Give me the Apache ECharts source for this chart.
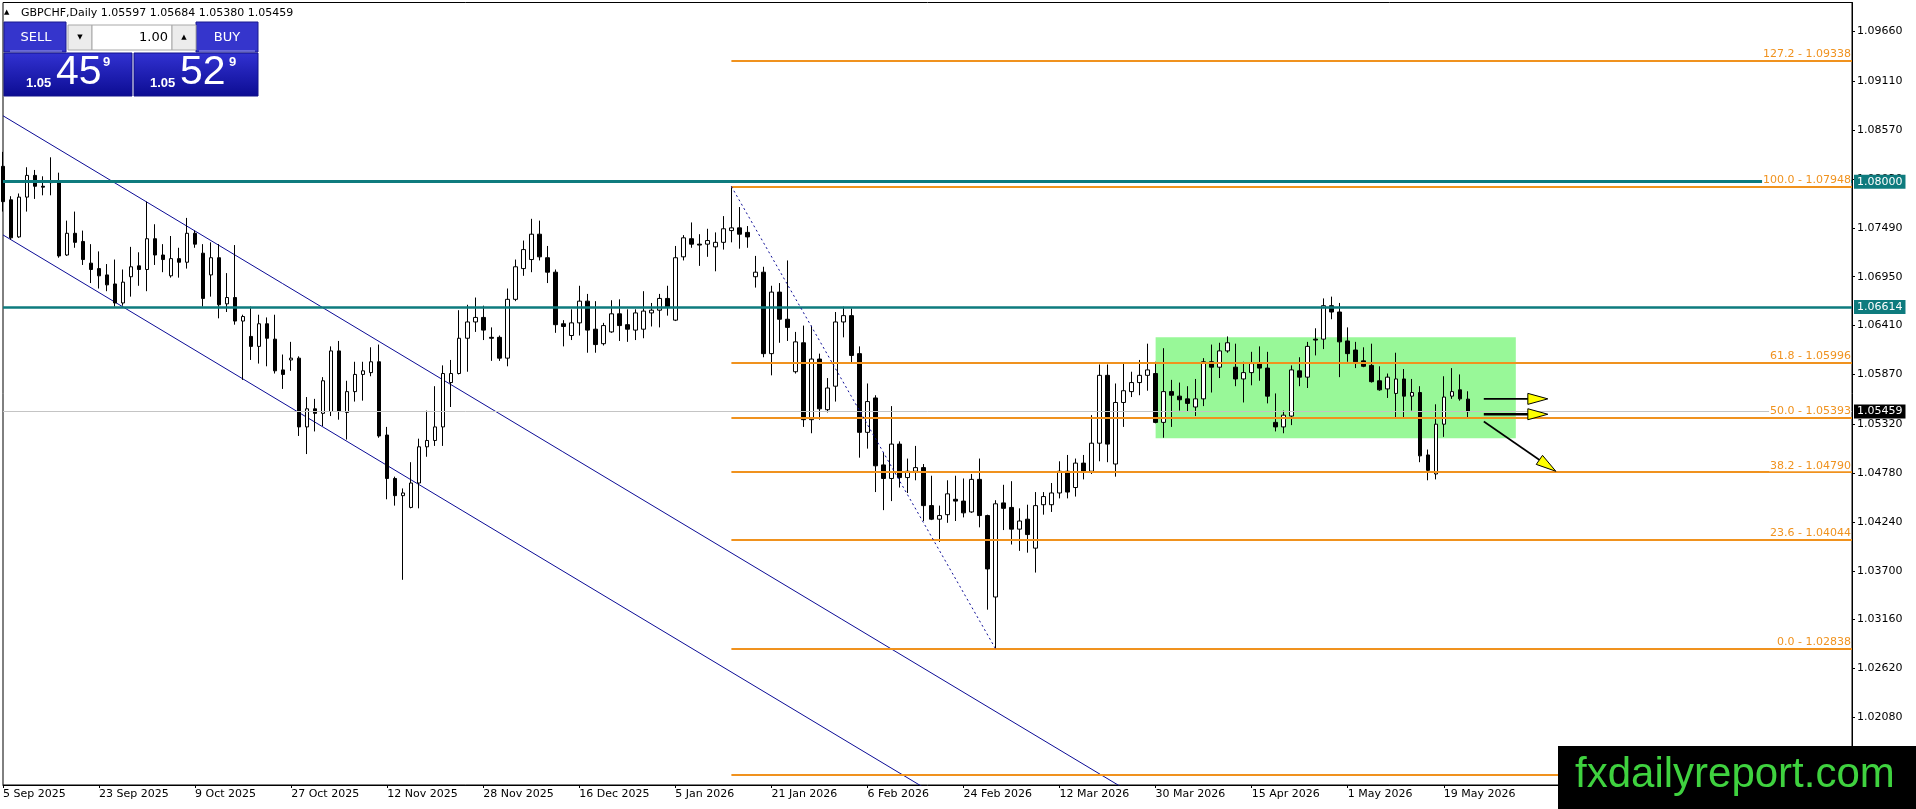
<!DOCTYPE html>
<html><head><meta charset="utf-8">
<script src="https://cdn.jsdelivr.net/npm/echarts/dist/echarts.min.js"></script>
<style>html,body{margin:0;padding:0;background:#fff;overflow:hidden}#c{width:1916px;height:809px}</style>
</head><body><div id="c"></div>
<script>
// ---- data ----
const opens = [1.0817,1.0780,1.0739,1.0783,1.0807,1.0795,1.0800,1.0801,1.0719,1.0743,1.0734,1.0710,1.0704,1.0697,1.0687,1.0666,1.0695,1.0707,1.0703,1.0737,
1.0719,1.0696,1.0715,1.0711,1.0743,1.0721,1.0697,1.0716,1.0665,1.0672,1.0646,1.0629,1.0618,1.0643,1.0626,1.0592,1.0603,1.0605,1.0529,1.0549,
1.0544,1.0546,1.0613,1.0545,1.0568,1.0587,1.0589,1.0601,1.0520,1.0472,1.0453,1.0440,1.0467,1.0507,1.0514,1.0529,1.0578,1.0588,1.0627,1.0645,
1.0650,1.0628,1.0628,1.0605,1.0670,1.0704,1.0714,1.0742,1.0716,1.0700,1.0643,1.0630,1.0644,1.0668,1.0637,1.0621,1.0634,1.0654,1.0642,1.0636,
1.0637,1.0655,1.0658,1.0671,1.0647,1.0717,1.0737,1.0731,1.0731,1.0728,1.0733,1.0746,1.0749,1.0744,1.0695,1.0700,1.0610,1.0678,1.0648,1.0590,
1.0622,1.0537,1.0604,1.0548,1.0574,1.0645,1.0652,1.0610,1.0523,1.0561,1.0487,1.0472,1.0510,1.0473,1.0480,1.0484,1.0442,1.0427,1.0432,1.0449,
1.0447,1.0435,1.0471,1.0431,1.0341,1.0445,1.0440,1.0416,1.0427,1.0395,1.0443,1.0443,1.0456,1.0480,1.0462,1.0489,1.0480,1.0511,1.0586,1.0488,
1.0556,1.0568,1.0578,1.0586,1.0588,1.0534,1.0568,1.0563,1.0560,1.0551,1.0560,1.0601,1.0595,1.0613,1.0595,1.0582,1.0589,1.0599,1.0594,1.0534,
1.0529,1.0541,1.0591,1.0584,1.0626,1.0626,1.0663,1.0656,1.0624,1.0614,1.0602,1.0597,1.0580,1.0571,1.0566,1.0582,1.0563,1.0567,1.0498,1.0477,
1.0532,1.0563,1.0570,1.05597];
const highs = [1.0833,1.0784,1.0787,1.0816,1.0813,1.0806,1.0827,1.0810,1.0757,1.0767,1.0746,1.0731,1.0723,1.0709,1.0714,1.0703,1.0728,1.0722,1.0778,1.0753,
1.0731,1.0740,1.0727,1.0760,1.0746,1.0731,1.0733,1.0731,1.0699,1.0730,1.0653,1.0662,1.0653,1.0650,1.0653,1.0609,1.0623,1.0607,1.0562,1.0560,
1.0584,1.0618,1.0624,1.0580,1.0601,1.0601,1.0617,1.0620,1.0529,1.0474,1.0461,1.0490,1.0516,1.0547,1.0574,1.0597,1.0603,1.0658,1.0664,1.0672,
1.0663,1.0639,1.0630,1.0682,1.0714,1.0735,1.0759,1.0757,1.0729,1.0703,1.0647,1.0659,1.0685,1.0676,1.0668,1.0644,1.0669,1.0670,1.0659,1.0659,
1.0679,1.0666,1.0676,1.0685,1.0729,1.0741,1.0755,1.0742,1.0748,1.0744,1.0762,1.0795,1.0772,1.0751,1.0718,1.0706,1.0685,1.0688,1.0713,1.0634,
1.0641,1.0641,1.0610,1.0583,1.0656,1.0662,1.0660,1.0618,1.0577,1.0564,1.0501,1.0552,1.0513,1.0494,1.0508,1.0488,1.0475,1.0442,1.0470,1.0475,
1.0472,1.0477,1.0494,1.0432,1.0448,1.0465,1.0469,1.0439,1.0443,1.0457,1.0457,1.0467,1.0491,1.0498,1.0494,1.0498,1.0542,1.0598,1.0598,1.0577,
1.0600,1.0590,1.0603,1.0621,1.0601,1.0616,1.0581,1.0578,1.0574,1.0582,1.0605,1.0620,1.0622,1.0629,1.0621,1.0601,1.0612,1.0618,1.0612,1.0566,
1.0547,1.0597,1.0606,1.0623,1.0638,1.0671,1.0673,1.0666,1.0639,1.0623,1.0617,1.0621,1.0596,1.0588,1.0611,1.0593,1.0582,1.0574,1.0504,1.0554,
1.0585,1.0594,1.0587,1.05684];
const lows = [1.0767,1.0736,1.0738,1.0767,1.0781,1.0785,1.0785,1.0716,1.0718,1.0727,1.0708,1.0688,1.0682,1.0679,1.0662,1.0663,1.0673,1.0685,1.0679,1.0708,
1.0700,1.0694,1.0694,1.0704,1.0727,1.0662,1.0673,1.0649,1.0656,1.0642,1.0581,1.0603,1.0599,1.0596,1.0588,1.0571,1.0591,1.0519,1.0499,1.0524,
1.0530,1.0541,1.0537,1.0515,1.0557,1.0558,1.0585,1.0517,1.0449,1.0442,1.0360,1.0439,1.0439,1.0496,1.0508,1.0508,1.0551,1.0587,1.0590,1.0634,
1.0625,1.0602,1.0602,1.0596,1.0668,1.0696,1.0700,1.0713,1.0688,1.0633,1.0618,1.0625,1.0630,1.0611,1.0611,1.0619,1.0633,1.0624,1.0623,1.0625,
1.0627,1.0640,1.0639,1.0652,1.0646,1.0713,1.0727,1.0707,1.0717,1.0701,1.0725,1.0733,1.0726,1.0727,1.0683,1.0606,1.0586,1.0622,1.0624,1.0588,
1.0529,1.0522,1.0537,1.0545,1.0557,1.0628,1.0600,1.0495,1.0505,1.0457,1.0437,1.0447,1.0462,1.0456,1.0470,1.0425,1.0426,1.0402,1.0423,1.0425,
1.0429,1.0434,1.0418,1.0327,1.0284,1.0415,1.0399,1.0392,1.0390,1.0368,1.0432,1.0435,1.0450,1.0450,1.0452,1.0471,1.0477,1.0491,1.0490,1.0474,
1.0529,1.0562,1.0564,1.0569,1.0533,1.0517,1.0529,1.0547,1.0546,1.0541,1.0552,1.0567,1.0583,1.0611,1.0574,1.0556,1.0575,1.0580,1.0555,1.0524,
1.0522,1.0531,1.0574,1.0572,1.0608,1.0615,1.0648,1.0584,1.0601,1.0594,1.0595,1.0578,1.0569,1.0561,1.0539,1.0539,1.0547,1.0490,1.0470,1.0471,
1.0518,1.0560,1.0558,1.05380];
const closes = [1.0778,1.0738,1.0783,1.0807,1.0795,1.0794,1.0799,1.0718,1.0743,1.0733,1.0714,1.0703,1.0696,1.0686,1.0666,1.0689,1.0706,1.0703,1.0737,1.0719,
1.0714,1.0715,1.0711,1.0743,1.0731,1.0671,1.0716,1.0664,1.0672,1.0646,1.0651,1.0618,1.0643,1.0627,1.0591,1.0587,1.0605,1.0529,1.0549,1.0544,
1.0580,1.0613,1.0546,1.0568,1.0587,1.0591,1.0601,1.0519,1.0472,1.0453,1.0456,1.0467,1.0507,1.0514,1.0529,1.0588,1.0588,1.0627,1.0645,1.0650,
1.0636,1.0627,1.0605,1.0670,1.0706,1.0725,1.0742,1.0717,1.0700,1.0642,1.0640,1.0644,1.0668,1.0636,1.0620,1.0641,1.0654,1.0641,1.0637,1.0655,
1.0657,1.0658,1.0671,1.0661,1.0716,1.0738,1.0731,1.0730,1.0735,1.0733,1.0748,1.0749,1.0742,1.0739,1.0700,1.0610,1.0678,1.0648,1.0639,1.0623,
1.0537,1.0604,1.0549,1.0572,1.0645,1.0652,1.0608,1.0523,1.0557,1.0486,1.0472,1.0510,1.0473,1.0480,1.0484,1.0442,1.0427,1.0431,1.0455,1.0447,
1.0434,1.0471,1.0431,1.0372,1.0444,1.0439,1.0416,1.0425,1.0410,1.0442,1.0452,1.0456,1.0480,1.0457,1.0489,1.0480,1.0511,1.0586,1.0510,1.0556,
1.0569,1.0578,1.0586,1.0592,1.0534,1.0568,1.0564,1.0559,1.0555,1.0560,1.0601,1.0595,1.0613,1.0622,1.0582,1.0589,1.0599,1.0594,1.0563,1.0529,
1.0542,1.0592,1.0584,1.0618,1.0625,1.0663,1.0656,1.0623,1.0610,1.0601,1.0596,1.0579,1.0570,1.0584,1.0582,1.0563,1.0567,1.0497,1.0481,1.0532,
1.0562,1.0568,1.0560,1.05459];
const tickLabels = ['5 Sep 2025','23 Sep 2025','9 Oct 2025','27 Oct 2025','12 Nov 2025','28 Nov 2025','16 Dec 2025','5 Jan 2026',
'21 Jan 2026','6 Feb 2026','24 Feb 2026','12 Mar 2026','30 Mar 2026','15 Apr 2026','1 May 2026','19 May 2026'];
const priceTicks = [1.0208,1.0262,1.0316,1.0370,1.0424,1.0478,1.0532,1.0587,1.0641,1.0695,1.0749,1.0803,1.0857,1.0911,1.0966];
const fibLevels = [127.2,100.0,61.8,50.0,38.2,23.6,0.0,-27.2];
const fibPrices = [1.09338,1.07948,1.05996,1.05393,1.04790,1.04044,1.02838,1.01448];
const fibTrend = [[91,1.07948],[124,1.02838]];
const levelLines = [1.08000,1.06614];
const bidPrice = 1.05459;
const channelUpper = [[0,1.08729],[150,1.00764]];
const channelLower = [[0,1.07412],[150,0.99447]];
const zone = [[144,1.0628],[189,1.05165]];
const arrows = [[185,1.0560,193,1.0560],[185,1.0543,193,1.0543],[185,1.0535,194,1.0480]];
const sellQuote = ['1.05','45','9'];
const buyQuote = ['1.05','52','9'];
const lotSize = '1.00';
const symbolTitle = 'GBPCHF,Daily';
const totalSlots = 232;

// ---- build ----
const cats = []; for (let i = 0; i < totalSlots; i++) cats.push(String(i));
const nBars = opens.length;
const candles = opens.map((o, i) => [o, closes[i], lows[i], highs[i]]);
const showTick = (idx) => idx % 12 === 0 && idx / 12 < tickLabels.length;
const last = nBars - 1;
const FF = 'DejaVu Sans';
const teal = '#0e7b7e';
const orange = '#f0921e';
const chBlue = '#0c0c96';

const chart = echarts.init(document.getElementById('c'));
const grad = new echarts.graphic.LinearGradient(0, 0, 0, 1, [{offset: 0, color: '#3232d2'}, {offset: 1, color: '#0c0c92'}]);

const fibLines = fibLevels.map((lv, k) => [
  {coord: [fibTrend[0][0], fibPrices[k]], label: {formatter: lv.toFixed(1) + ' - ' + fibPrices[k].toFixed(5)}},
  {coord: [totalSlots - 1, fibPrices[k]]}
]);

chart.setOption({
  animation: false,
  backgroundColor: '#fff',
  textStyle: {fontFamily: FF},
  grid: {left: 2.5, right: 64, top: 2.5, bottom: 24, show: true, borderColor: '#000', borderWidth: 1, backgroundColor: '#fff'},
  xAxis: {
    type: 'category', data: cats, boundaryGap: false,
    axisLine: {lineStyle: {color: '#000'}},
    axisTick: {show: true, interval: showTick, length: 3, lineStyle: {color: '#000'}},
    axisLabel: {interval: showTick, formatter: (v, idx) => tickLabels[Math.round(idx / 12)] || '', align: 'left', margin: 4, color: '#000', fontSize: 11, fontFamily: FF},
    splitLine: {show: false}
  },
  yAxis: {
    type: 'value', position: 'right', min: 1.01332, max: 1.09981, scale: true,
    axisLine: {show: true, lineStyle: {color: '#000'}},
    axisTick: {show: true, length: 3, customValues: priceTicks, lineStyle: {color: '#000'}},
    axisLabel: {customValues: priceTicks, formatter: v => v.toFixed(5), color: '#000', fontSize: 11, fontFamily: FF, margin: 5},
    splitLine: {show: false}
  },
  series: [
    { // channel lower + green zone behind candles
      type: 'line', z: 1, data: channelLower, symbol: 'none', silent: true,
      lineStyle: {color: chBlue, width: 1},
      markArea: {silent: true, precision: 6, itemStyle: {color: '#98f898'}, data: [[{coord: zone[0]}, {coord: zone[1]}]]}
    },
    {type: 'line', z: 1, data: channelUpper, symbol: 'none', silent: true, lineStyle: {color: chBlue, width: 1}},
    { // bid line behind candles
      type: 'line', z: 2, data: [], silent: true,
      markLine: {silent: true, symbol: 'none', animation: false, precision: 6,
        data: [{yAxis: bidPrice, lineStyle: {color: '#c4c4c4', width: 1, type: 'solid'},
          label: {show: true, position: 'end', distance: 2, formatter: () => bidPrice.toFixed(5), color: '#fff', backgroundColor: '#000', padding: [2, 3, 1, 3], fontSize: 11, fontFamily: FF}}]}
    },
    {
      type: 'candlestick', z: 3, data: candles, barWidth: 4,
      itemStyle: {color: '#fff', color0: '#000', borderColor: '#000', borderColor0: '#000', borderColorDoji: '#000', borderWidth: 1}
    },
    { // horizontal levels
      type: 'line', z: 4, data: [], silent: true,
      markLine: {silent: true, symbol: 'none', animation: false, precision: 6,
        label: {show: true, position: 'end', distance: 2, color: '#fff', backgroundColor: teal, padding: [2, 3, 1, 3], fontSize: 11, fontFamily: FF, formatter: p => levelLines[p.dataIndex].toFixed(5)},
        data: levelLines.map((v, k) => ({yAxis: v, lineStyle: {color: teal, width: k === 0 ? 3 : 2.5, type: 'solid'}}))}
    },
    { // fibonacci
      type: 'line', z: 5, data: fibTrend, symbol: 'none', silent: true,
      lineStyle: {color: chBlue, width: 1, type: [2, 3]},
      markLine: {silent: true, symbol: 'none', animation: false, precision: 6,
        lineStyle: {color: orange, width: 2, type: 'solid'},
        label: {show: true, position: 'insideEndTop', distance: [1, 1], color: orange, backgroundColor: '#fff', padding: [1, 0, 0, 1], fontSize: 11, fontFamily: FF},
        data: fibLines}
    },
    { // arrows
      type: 'custom', z: 6, silent: true, data: arrows, encode: {x: [0, 2], y: [1, 3]},
      renderItem: function (params, api) {
        const a = arrows[params.dataIndex];
        const p1 = api.coord([a[0], a[1]]), p2 = api.coord([a[2], a[3]]);
        const dx = p2[0] - p1[0], dy = p2[1] - p1[1], len = Math.hypot(dx, dy);
        const ux = dx / len, uy = dy / len, hl = 20, hw = 5.5;
        const bx = p2[0] - ux * hl, by = p2[1] - uy * hl, nx = -uy, ny = ux;
        return {type: 'group', children: [
          {type: 'line', shape: {x1: p1[0], y1: p1[1], x2: bx + ux * 2, y2: by + uy * 2}, style: {stroke: '#000', lineWidth: params.dataIndex === 1 ? 2.5 : 1.6}},
          {type: 'polygon', shape: {points: [[p2[0], p2[1]], [bx + nx * hw, by + ny * hw], [bx - nx * hw, by - ny * hw]]}, style: {fill: '#ffff00', stroke: '#000', lineWidth: 1}}
        ]};
      }
    }
  ],
  graphic: [
    {type: 'text', z: 50, style: {x: 4, y: 12, text: '▲', font: '7px ' + FF, fill: '#000', verticalAlign: 'middle'}},
    {type: 'text', z: 50, style: {x: 21, y: 13, text: symbolTitle + ' ' + [opens[last], highs[last], lows[last], closes[last]].map(v => v.toFixed(5)).join(' '), font: '11px ' + FF, fill: '#000', verticalAlign: 'middle'}},
    // one-click panel
    {type: 'rect', z: 50, shape: {x: 4, y: 22, width: 62, height: 30}, style: {fill: '#3535cc', stroke: '#1a1a8e'}},
    {type: 'rect', z: 50, shape: {x: 196, y: 22, width: 62, height: 30}, style: {fill: '#3535cc', stroke: '#1a1a8e'}},
    {type: 'rect', z: 50, shape: {x: 4, y: 53, width: 128, height: 43}, style: {fill: grad, stroke: '#12128a'}},
    {type: 'rect', z: 50, shape: {x: 134, y: 53, width: 124, height: 43}, style: {fill: grad, stroke: '#12128a'}},
    {type: 'line', z: 51, shape: {x1: 10, y1: 51, x2: 62, y2: 51}, style: {stroke: '#a0a0e6', lineWidth: 1}},
    {type: 'line', z: 51, shape: {x1: 199, y1: 51, x2: 255, y2: 51}, style: {stroke: '#a0a0e6', lineWidth: 1}},
    {type: 'rect', z: 50, shape: {x: 68, y: 25, width: 24, height: 25}, style: {fill: '#ececec', stroke: '#a8a8a8'}},
    {type: 'rect', z: 50, shape: {x: 92, y: 25, width: 80, height: 25}, style: {fill: '#fff', stroke: '#a8a8a8'}},
    {type: 'rect', z: 50, shape: {x: 172, y: 25, width: 24, height: 25}, style: {fill: '#ececec', stroke: '#a8a8a8'}},
    {type: 'text', z: 52, style: {x: 80, y: 37.5, text: '▼', font: '7px ' + FF, fill: '#000', align: 'center', verticalAlign: 'middle'}},
    {type: 'text', z: 52, style: {x: 184, y: 37.5, text: '▲', font: '7px ' + FF, fill: '#000', align: 'center', verticalAlign: 'middle'}},
    {type: 'text', z: 52, style: {x: 168, y: 37.5, text: lotSize, font: '13px ' + FF, fill: '#000', align: 'right', verticalAlign: 'middle'}},
    {type: 'text', z: 52, style: {x: 36, y: 38, text: 'SELL', font: '13px ' + FF, fill: '#fff', align: 'center', verticalAlign: 'middle'}},
    {type: 'text', z: 52, style: {x: 227, y: 38, text: 'BUY', font: '13px ' + FF, fill: '#fff', align: 'center', verticalAlign: 'middle'}},
    {type: 'text', z: 52, style: {x: 26, y: 83, text: sellQuote[0], font: 'bold 13px Liberation Sans', fill: '#fff', verticalAlign: 'middle'}},
    {type: 'text', z: 52, style: {x: 56, y: 73, text: sellQuote[1], font: '41px Liberation Sans', fill: '#fff', verticalAlign: 'middle'}},
    {type: 'text', z: 52, style: {x: 103, y: 62, text: sellQuote[2], font: 'bold 13px Liberation Sans', fill: '#fff', verticalAlign: 'middle'}},
    {type: 'text', z: 52, style: {x: 150, y: 83, text: buyQuote[0], font: 'bold 13px Liberation Sans', fill: '#fff', verticalAlign: 'middle'}},
    {type: 'text', z: 52, style: {x: 180, y: 73, text: buyQuote[1], font: '41px Liberation Sans', fill: '#fff', verticalAlign: 'middle'}},
    {type: 'text', z: 52, style: {x: 229, y: 62, text: buyQuote[2], font: 'bold 13px Liberation Sans', fill: '#fff', verticalAlign: 'middle'}},
    // watermark box
    {type: 'rect', z: 100, shape: {x: 1558, y: 746, width: 358, height: 63}, style: {fill: '#000'}},
    {type: 'text', z: 101, style: {x: 1575, y: 775, text: 'fxdailyreport.com', font: '42px Liberation Sans', fill: '#3fd23f', verticalAlign: 'middle'}}
  ]
});
</script>
</body></html>
